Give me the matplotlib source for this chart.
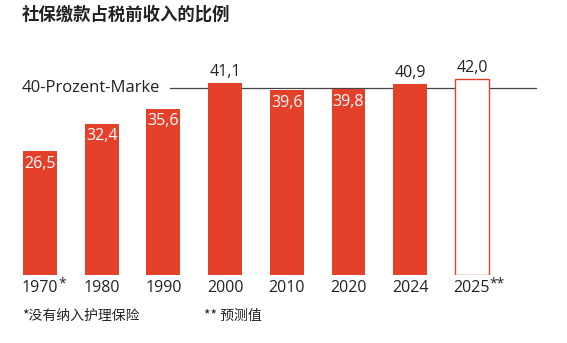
import matplotlib.pyplot as plt

plt.rcParams['font.family'] = ['Noto Sans CJK SC', 'DejaVu Sans']
latin = ['Open Sans', 'Noto Sans CJK SC']

# data
years = ['1970', '1980', '1990', '2000', '2010', '2020', '2024', '2025']
marks = ['*', '', '', '', '', '', '', '**']
values = [26.5, 32.4, 35.6, 41.1, 39.6, 39.8, 40.9, 42.0]
forecast = [False, False, False, False, False, False, False, True]
mark_line = 40

red = '#E5402A'
dark = '#222222'

W, H = 567, 343
fig = plt.figure(figsize=(W / 100, H / 100), dpi=100)
# x=0 at 40px, step 61.7px; y=0 at 275px, 4.67px per unit
step = 61.7
ax = fig.add_axes([0, (H - 275) / H, 1, 275 / H])
ax.set_xlim(-40 / step, (W - 40) / step)
ax.set_ylim(0, 275 / 4.67)
ax.axis('off')

xs = list(range(len(years)))
for x, v, f in zip(xs, values, forecast):
    if f:
        ax.bar(x, v, width=0.55, facecolor='white', edgecolor=red, linewidth=1)
    else:
        ax.bar(x, v, width=0.55, color=red, linewidth=0)
    label = f'{v:.1f}'.replace('.', ',')
    if v > mark_line:
        ax.text(x, v + 2.4, label, ha='center', va='center', fontsize=11.5, color=dark, family=latin)
    else:
        ax.text(x, v - 2.7, label, ha='center', va='center', fontsize=11.5, color='white', family=latin)
    ax.text(x, -2.7, years[x], ha='center', va='center', fontsize=11.5, color=dark, family=latin)
    if marks[x]:
        ax.text(x + 0.29, -2.0, marks[x], ha='left', va='center', fontsize=10, color=dark, family=latin)

# 40 percent line
ax.plot([(170 - 40) / step, (536 - 40) / step], [mark_line, mark_line], color='#444444', lw=0.9, zorder=0.5)
ax.text((22 - 40) / step, mark_line, '40-Prozent-Marke', ha='left', va='center', fontsize=12,
        color=dark, family=latin)

fig.text(22 / W, 1 - 15 / H, '社保缴款占税前收入的比例', ha='left', va='center',
         fontsize=12.5, fontweight='bold', color=dark)
fig.text(22 / W, 1 - 316 / H, '*没有纳入护理保险', ha='left', va='center', fontsize=10, color=dark)
fig.text(204 / W, 1 - 316 / H, '** 预测值', ha='left', va='center', fontsize=10, color=dark)

fig.savefig('out.png', dpi=100, facecolor='white')
